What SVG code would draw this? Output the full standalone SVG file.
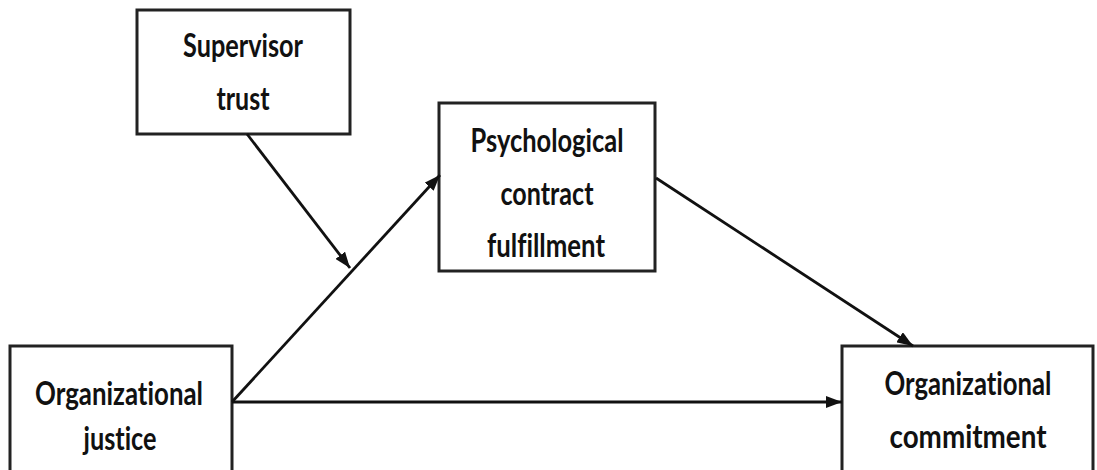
<svg xmlns="http://www.w3.org/2000/svg" width="1097" height="470" viewBox="0 0 1097 470">
<style>
.box{fill:#fff;stroke:#222;stroke-width:3}
.t{font-family:Lato,"Liberation Sans",sans-serif;font-weight:bold;font-size:32px;fill:#111;text-anchor:middle;font-variant-ligatures:none}
.c{stroke:#111;stroke-width:2.8;fill:none;marker-end:url(#ah)}
</style>
<defs>
<marker id="ah" viewBox="0 0 16 12" refX="16" refY="6" markerWidth="16" markerHeight="12" markerUnits="userSpaceOnUse" orient="auto">
<path d="M0,0 L16,6 L0,12 z" fill="#111"/>
</marker>
</defs>
<rect width="1097" height="470" fill="#fff"/>
<g id="supervisor">
<rect class="box" x="137" y="10" width="213" height="124"/>
<text class="t" x="243" y="57" textLength="120" lengthAdjust="spacingAndGlyphs">Supervisor</text>
<text class="t" x="243" y="110" textLength="53" lengthAdjust="spacingAndGlyphs">trust</text>
</g>
<g id="psych">
<rect class="box" x="439" y="103" width="216" height="168"/>
<text class="t" x="547" y="152" textLength="153" lengthAdjust="spacingAndGlyphs">Psychological</text>
<text class="t" x="547" y="205" textLength="93" lengthAdjust="spacingAndGlyphs">contract</text>
<text class="t" x="546" y="257" textLength="118" lengthAdjust="spacingAndGlyphs">fulfillment</text>
</g>
<g id="justice">
<rect class="box" x="10" y="346" width="222" height="130"/>
<text class="t" x="119" y="405" textLength="168" lengthAdjust="spacingAndGlyphs">Organizational</text>
<text class="t" x="120" y="450" textLength="73" lengthAdjust="spacingAndGlyphs">justice</text>
</g>
<g id="commitment">
<rect class="box" x="842" y="346" width="251" height="130"/>
<text class="t" x="968" y="395" textLength="167" lengthAdjust="spacingAndGlyphs">Organizational</text>
<text class="t" x="968" y="448" textLength="157" lengthAdjust="spacingAndGlyphs">commitment</text>
</g>
<g id="connectors">
<line class="c" x1="232" y1="402" x2="842" y2="402"/>
<line class="c" x1="232" y1="402" x2="440" y2="175"/>
<line class="c" x1="247" y1="134" x2="350" y2="268"/>
<line class="c" x1="656" y1="178" x2="913" y2="346"/>
</g>
</svg>
